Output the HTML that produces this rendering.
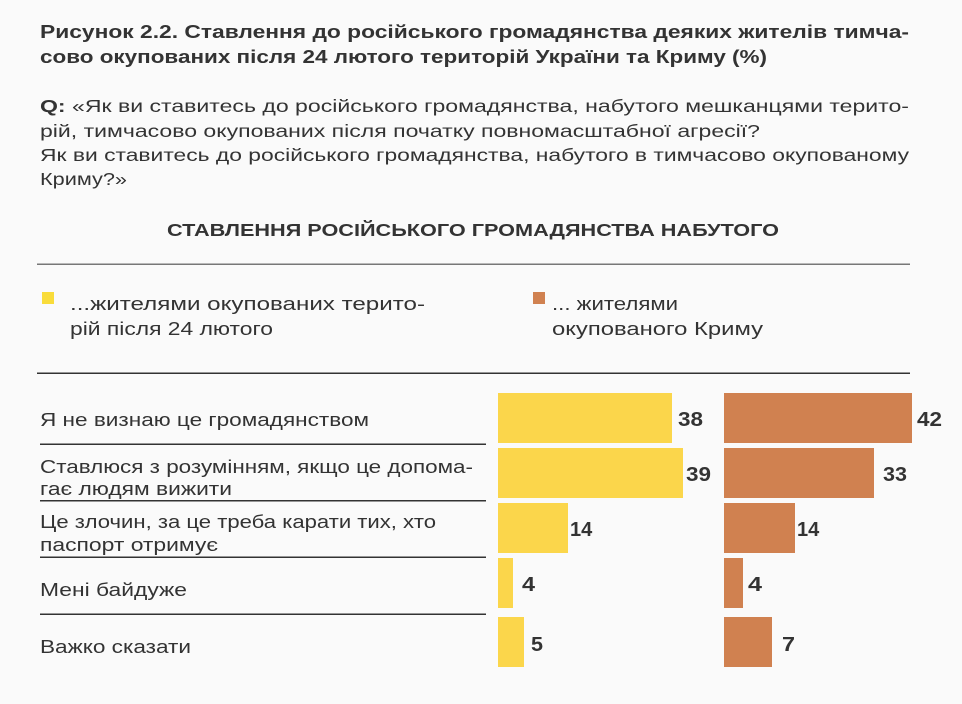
<!DOCTYPE html>
<html><head><meta charset="utf-8"><style>
html,body{margin:0;padding:0;background:#fafafa;}
svg{display:block;}
text{font-family:"Liberation Sans",sans-serif;fill:#333;}
.b{font-weight:bold;}
</style></head><body>
<svg width="962" height="704" viewBox="0 0 962 704" xmlns="http://www.w3.org/2000/svg">
<rect width="962" height="704" fill="#fafafa"/>
<g font-size="18" class="b">
<text x="40" y="38" class="b" textLength="869" lengthAdjust="spacingAndGlyphs">Рисунок 2.2. Ставлення до російського громадянства деяких жителів тимча-</text>
<text x="40" y="63" class="b" textLength="727" lengthAdjust="spacingAndGlyphs">сово окупованих після 24 лютого територій України та Криму (%)</text>
</g>
<g font-size="17.5">
<text x="40" y="112" textLength="869" lengthAdjust="spacingAndGlyphs"><tspan class="b">Q:</tspan> «Як ви ставитесь до російського громадянства, набутого мешканцями терито-</text>
<text x="40" y="137" textLength="720" lengthAdjust="spacingAndGlyphs">рій, тимчасово окупованих після початку повномасштабної агресії?</text>
<text x="40" y="161" textLength="869" lengthAdjust="spacingAndGlyphs">Як ви ставитесь до російського громадянства, набутого в тимчасово окупованому</text>
<text x="40" y="185" textLength="87" lengthAdjust="spacingAndGlyphs">Криму?»</text>
</g>
<text x="167" y="236" font-size="17.5" class="b" textLength="612" lengthAdjust="spacingAndGlyphs">СТАВЛЕННЯ РОСІЙСЬКОГО ГРОМАДЯНСТВА НАБУТОГО</text>
<rect x="37" y="263.5" width="873" height="1.5" fill="#777"/>
<rect x="42" y="292" width="12" height="12" fill="#f9dc3a"/>
<rect x="533" y="292" width="12" height="12" fill="#d08150"/>
<g font-size="18">
<text x="70" y="310" textLength="355" lengthAdjust="spacingAndGlyphs">...жителями   окупованих   терито-</text>
<text x="70" y="335" textLength="203" lengthAdjust="spacingAndGlyphs">рій після 24 лютого</text>
<text x="552" y="310" textLength="126" lengthAdjust="spacingAndGlyphs">... жителями</text>
<text x="552" y="335" textLength="211" lengthAdjust="spacingAndGlyphs">окупованого Криму</text>
</g>
<rect x="37" y="372.5" width="873" height="1.5" fill="#333"/>
<g fill="#333">
<rect x="40" y="443.5" width="446" height="1.5"/>
<rect x="40" y="500" width="446" height="1.5"/>
<rect x="40" y="556.5" width="446" height="1.5"/>
<rect x="40" y="613.5" width="446" height="1.5"/>
</g>
<g font-size="18">
<text x="40" y="426" textLength="329" lengthAdjust="spacingAndGlyphs">Я не визнаю це громадянством</text>
<text x="40" y="473" textLength="433" lengthAdjust="spacingAndGlyphs">Ставлюся з розумінням, якщо це допома-</text>
<text x="40" y="495" textLength="192" lengthAdjust="spacingAndGlyphs">гає людям вижити</text>
<text x="40" y="528" textLength="396" lengthAdjust="spacingAndGlyphs">Це злочин, за це треба карати тих, хто</text>
<text x="40" y="551" textLength="178" lengthAdjust="spacingAndGlyphs">паспорт отримує</text>
<text x="40" y="596" textLength="147" lengthAdjust="spacingAndGlyphs">Мені байдуже</text>
<text x="40" y="653" textLength="151" lengthAdjust="spacingAndGlyphs">Важко сказати</text>
</g>
<g fill="#fbd64b">
<rect x="498" y="393" width="174" height="50"/>
<rect x="498" y="448" width="185" height="50"/>
<rect x="498" y="503" width="70" height="50"/>
<rect x="498" y="558" width="15" height="50"/>
<rect x="498" y="617" width="26" height="50"/>
</g>
<g fill="#d08150">
<rect x="724" y="393" width="188" height="50"/>
<rect x="724" y="448" width="150" height="50"/>
<rect x="724" y="503" width="71" height="50"/>
<rect x="724" y="558" width="19" height="50"/>
<rect x="724" y="617" width="48" height="50"/>
</g>
<g font-size="20" class="b">
<text x="678" y="426" class="b" textLength="25" lengthAdjust="spacingAndGlyphs">38</text>
<text x="686" y="481" class="b" textLength="25" lengthAdjust="spacingAndGlyphs">39</text>
<text x="570" y="536" class="b">14</text>
<text x="522" y="591" class="b" textLength="13" lengthAdjust="spacingAndGlyphs">4</text>
<text x="531" y="651" class="b" textLength="12" lengthAdjust="spacingAndGlyphs">5</text>
<text x="917" y="426" class="b" textLength="25" lengthAdjust="spacingAndGlyphs">42</text>
<text x="883" y="481" class="b" textLength="24" lengthAdjust="spacingAndGlyphs">33</text>
<text x="797" y="536" class="b">14</text>
<text x="748" y="591" class="b" textLength="14" lengthAdjust="spacingAndGlyphs">4</text>
<text x="782" y="651" class="b" textLength="13" lengthAdjust="spacingAndGlyphs">7</text>
</g>
</svg>
</body></html>
